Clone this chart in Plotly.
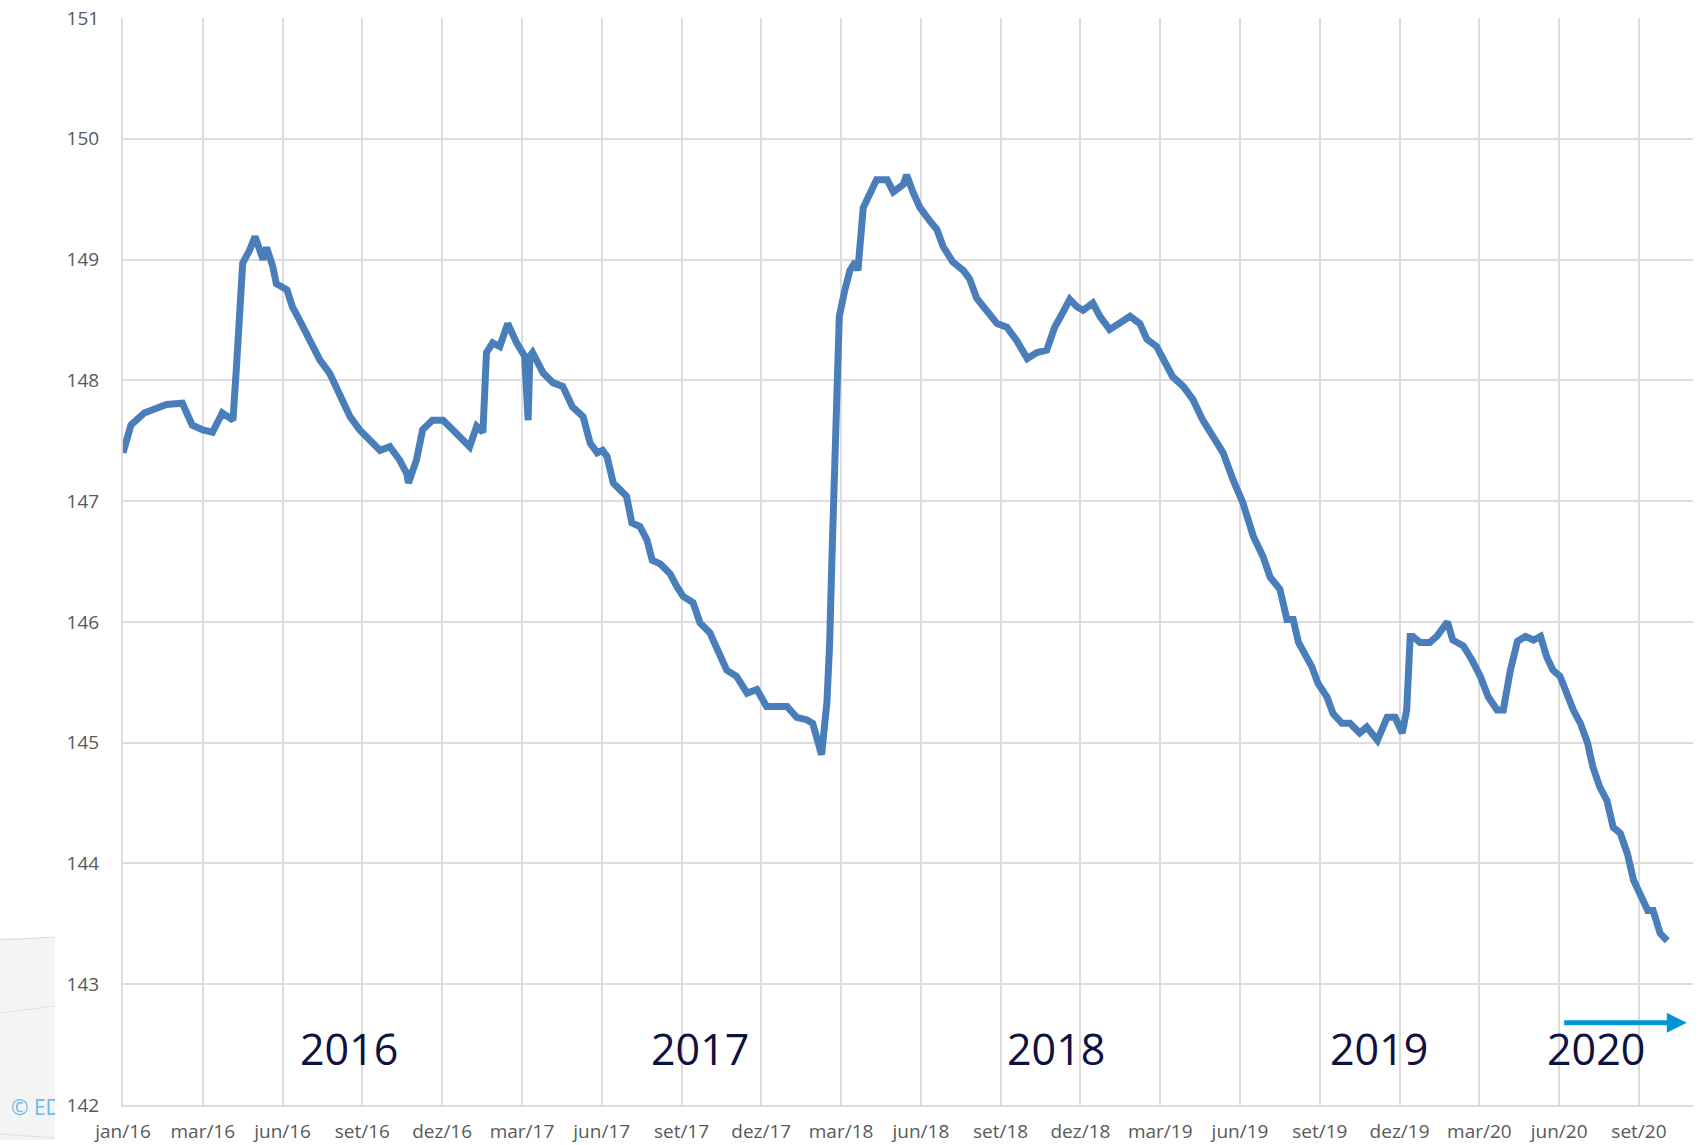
import plotly.graph_objects as go

# ---- data ----
dates = [
    "2016-01-01", "2016-01-10", "2016-01-25", "2016-02-19", "2016-03-08", "2016-03-19",
    "2016-03-31", "2016-04-11", "2016-04-22", "2016-05-04", "2016-05-08", "2016-05-12",
    "2016-05-15", "2016-05-23", "2016-05-29", "2016-06-07", "2016-06-11", "2016-06-18",
    "2016-06-22", "2016-07-04", "2016-07-10", "2016-07-18", "2016-07-30", "2016-08-10",
    "2016-08-21", "2016-09-02", "2016-09-13", "2016-09-24", "2016-10-05", "2016-10-17",
    "2016-10-28", "2016-11-08", "2016-11-16", "2016-11-18", "2016-11-27", "2016-12-04",
    "2016-12-15", "2016-12-27", "2017-01-07", "2017-01-18", "2017-01-26", "2017-02-03",
    "2017-02-10", "2017-02-14", "2017-02-21", "2017-03-01", "2017-03-10", "2017-03-20",
    "2017-03-29", "2017-04-02", "2017-04-04", "2017-04-07", "2017-04-19", "2017-04-30",
    "2017-05-11", "2017-05-22", "2017-06-03", "2017-06-11", "2017-06-19", "2017-06-25",
    "2017-06-30", "2017-07-07", "2017-07-14", "2017-07-22", "2017-07-28", "2017-08-06",
    "2017-08-14", "2017-08-20", "2017-08-29", "2017-09-09", "2017-09-17", "2017-09-24",
    "2017-10-05", "2017-10-13", "2017-10-24", "2017-11-01", "2017-11-12", "2017-11-23",
    "2017-12-05", "2017-12-16", "2017-12-27", "2018-01-08", "2018-01-19", "2018-01-30",
    "2018-02-10", "2018-02-17", "2018-02-27", "2018-03-05", "2018-03-08", "2018-03-11",
    "2018-03-14", "2018-03-17", "2018-03-19", "2018-03-25", "2018-03-31", "2018-04-06",
    "2018-04-09", "2018-04-15", "2018-04-19", "2018-04-30", "2018-05-12", "2018-05-19",
    "2018-05-30", "2018-06-03", "2018-06-10", "2018-06-18", "2018-06-29", "2018-07-07",
    "2018-07-14", "2018-07-25", "2018-08-06", "2018-08-13", "2018-08-21", "2018-09-02",
    "2018-09-13", "2018-09-24", "2018-10-05", "2018-10-17", "2018-10-28", "2018-11-08",
    "2018-11-17", "2018-11-26", "2018-12-04", "2018-12-12", "2018-12-19", "2018-12-30",
    "2019-01-07", "2019-01-18", "2019-01-30", "2019-02-10", "2019-02-21", "2019-03-01",
    "2019-03-12", "2019-03-19", "2019-03-30", "2019-04-11", "2019-04-22", "2019-05-03",
    "2019-05-15", "2019-05-26", "2019-06-06", "2019-06-17", "2019-06-29", "2019-07-10",
    "2019-07-18", "2019-07-29", "2019-08-06", "2019-08-13", "2019-08-19", "2019-08-26",
    "2019-09-03", "2019-09-10", "2019-09-20", "2019-09-27", "2019-10-07", "2019-10-16",
    "2019-10-27", "2019-11-04", "2019-11-16", "2019-11-27", "2019-12-06", "2019-12-14",
    "2019-12-19", "2019-12-23", "2019-12-26", "2020-01-03", "2020-01-14", "2020-01-22",
    "2020-02-03", "2020-02-09", "2020-02-21", "2020-03-02", "2020-03-11", "2020-03-20",
    "2020-03-30", "2020-04-06", "2020-04-14", "2020-04-22", "2020-05-01", "2020-05-10",
    "2020-05-18", "2020-05-25", "2020-06-01", "2020-06-09", "2020-06-17", "2020-06-24",
    "2020-07-02", "2020-07-10", "2020-07-16", "2020-07-24", "2020-08-01", "2020-08-08",
    "2020-08-16", "2020-08-24", "2020-08-31", "2020-09-08", "2020-09-16", "2020-09-22",
    "2020-09-30", "2020-10-08",
]

levels = [
    147.40, 147.63, 147.73, 147.80, 147.81, 147.63,
    147.59, 147.57, 147.73, 147.67, 148.11, 148.78,
    148.97, 149.08, 149.19, 149.00, 149.10, 148.94,
    148.80, 148.75, 148.61, 148.50, 148.31, 148.17,
    148.06, 147.87, 147.70, 147.59, 147.51, 147.42,
    147.45, 147.34, 147.23, 147.15, 147.34, 147.59,
    147.67, 147.67, 147.59, 147.51, 147.45, 147.62,
    147.57, 148.23, 148.31, 148.28, 148.47, 148.31,
    148.20, 147.67, 148.20, 148.23, 148.06, 147.98,
    147.95, 147.78, 147.70, 147.48, 147.40, 147.42,
    147.37, 147.15, 147.09, 147.04, 146.82, 146.79,
    146.68, 146.51, 146.48, 146.40, 146.29, 146.21,
    146.16, 145.99, 145.91, 145.77, 145.60, 145.55,
    145.41, 145.44, 145.30, 145.30, 145.30, 145.21,
    145.19, 145.16, 144.90, 145.33, 145.80, 146.60,
    147.55, 148.20, 148.53, 148.74, 148.91, 148.98,
    148.91, 149.43, 149.50, 149.66, 149.66, 149.56,
    149.62, 149.70, 149.56, 149.43, 149.32, 149.25,
    149.11, 148.98, 148.91, 148.84, 148.68, 148.57,
    148.47, 148.44, 148.33, 148.18, 148.23, 148.25,
    148.44, 148.56, 148.67, 148.61, 148.58, 148.64,
    148.53, 148.42, 148.47, 148.53, 148.47, 148.34,
    148.28, 148.17, 148.03, 147.95, 147.84, 147.67,
    147.53, 147.40, 147.18, 146.99, 146.71, 146.54,
    146.37, 146.27, 146.02, 146.02, 145.83, 145.74,
    145.63, 145.49, 145.38, 145.24, 145.16, 145.16,
    145.08, 145.13, 145.02, 145.21, 145.21, 145.08,
    145.27, 145.88, 145.88, 145.83, 145.83, 145.88,
    146.00, 145.85, 145.80, 145.68, 145.55, 145.38,
    145.27, 145.27, 145.60, 145.84, 145.88, 145.85,
    145.88, 145.71, 145.60, 145.55, 145.38, 145.27,
    145.16, 145.00, 144.80, 144.63, 144.52, 144.30,
    144.25, 144.08, 143.86, 143.72, 143.61, 143.61,
    143.42, 143.36,
]

tick_dates = [
    "2016-01-01", "2016-03-31", "2016-06-29", "2016-09-27", "2016-12-26",
    "2017-03-26", "2017-06-24", "2017-09-22", "2017-12-21", "2018-03-21",
    "2018-06-19", "2018-09-17", "2018-12-16", "2019-03-16", "2019-06-14",
    "2019-09-12", "2019-12-11", "2020-03-10", "2020-06-08", "2020-09-06",
]
tick_labels = [
    "jan/16", "mar/16", "jun/16", "set/16", "dez/16",
    "mar/17", "jun/17", "set/17", "dez/17", "mar/18",
    "jun/18", "set/18", "dez/18", "mar/19", "jun/19",
    "set/19", "dez/19", "mar/20", "jun/20", "set/20",
]

year_labels = ["2016", "2017", "2018", "2019", "2020"]
year_label_dates = ["2016-09-12", "2017-10-13", "2018-11-18", "2019-11-18", "2020-07-20"]
year_label_level = 142.47

arrow_start = "2020-06-12"
arrow_end = "2020-10-30"
arrow_level = 142.68

# ---- figure ----
W, H = 1698, 1145
L, R, T, B = 123, 5, 18, 40
PW, PH = W - L - R, H - T - B


def px_x(px):
    return (px - L) / PW


def px_y(py):
    return (H - B - py) / PH


grid = "#dcdcdc"
tick_font = dict(family="Open Sans, Noto Sans, sans-serif", size=19, color="#595959")

fig = go.Figure()
fig.add_trace(go.Scatter(
    x=dates, y=levels, mode="lines",
    line=dict(color="#4a7ebb", width=7),
    hoverinfo="x+y", showlegend=False,
))

annotations = []
for lab, d in zip(year_labels, year_label_dates):
    annotations.append(dict(
        x=d, y=year_label_level, xref="x", yref="y", text=lab, showarrow=False,
        xanchor="center", yanchor="middle",
        font=dict(family="Open Sans, Noto Sans, sans-serif", size=43, color="#0f1140"),
    ))

annotations.append(dict(
    x=arrow_end, y=arrow_level, ax=arrow_start, ay=arrow_level,
    xref="x", yref="y", axref="x", ayref="y", text="", showarrow=True,
    arrowhead=2, arrowsize=0.8, arrowwidth=5, arrowcolor="#0096d6",
))

# faint slide decoration at the far left
annotations.append(dict(
    x=px_x(9), y=px_y(1107), xref="paper", yref="paper", text="© ED", showarrow=False,
    xanchor="left", yanchor="middle",
    font=dict(family="Open Sans, Noto Sans, sans-serif", size=21, color="#6cb8e6"),
))
annotations.append(dict(
    x=px_x(55), y=px_y(1107), xref="paper", yref="paper", text=" ", showarrow=False,
    xanchor="left", yanchor="middle", width=9, height=30, bgcolor="white",
    borderpad=0, borderwidth=0,
))

shapes = [
    dict(type="rect", xref="paper", yref="paper",
         x0=px_x(0), x1=px_x(55), y0=px_y(938), y1=px_y(1140),
         fillcolor="#f4f4f4", line=dict(width=0), layer="below"),
    dict(type="line", xref="paper", yref="paper",
         x0=px_x(0), x1=px_x(55), y0=px_y(940), y1=px_y(937),
         line=dict(color="#dadada", width=1)),
    dict(type="line", xref="paper", yref="paper",
         x0=px_x(0), x1=px_x(55), y0=px_y(1013), y1=px_y(1006),
         line=dict(color="#e0e0e0", width=1)),
    dict(type="line", xref="paper", yref="paper",
         x0=px_x(0), x1=px_x(55), y0=px_y(1134), y1=px_y(1138),
         line=dict(color="#dedede", width=1)),
]

fig.update_layout(
    width=W, height=H,
    margin=dict(l=L, r=R, t=T, b=B, pad=0, autoexpand=False),
    paper_bgcolor="white", plot_bgcolor="white",
    annotations=annotations, shapes=shapes,
    showlegend=False,
)
fig.update_xaxes(
    type="date", range=["2016-01-01", "2020-11-06"],
    tickmode="array", tickvals=tick_dates, ticktext=tick_labels,
    showgrid=True, gridcolor=grid, gridwidth=2,
    showline=True, linecolor=grid, linewidth=2,
    ticks="", tickfont=tick_font, ticklabelstandoff=8, zeroline=False,
    automargin=False,
)
fig.update_yaxes(
    range=[142, 151], tickmode="linear", tick0=142, dtick=1,
    showgrid=True, gridcolor=grid, gridwidth=2,
    showline=True, linecolor=grid, linewidth=2,
    ticks="", tickfont=tick_font, ticklabelstandoff=18, zeroline=False,
    automargin=False,
)

fig.write_html(
    "out.html",
    config={"displayModeBar": False},
    post_script="document.body.style.margin='0';document.body.style.overflow='hidden';",
)
